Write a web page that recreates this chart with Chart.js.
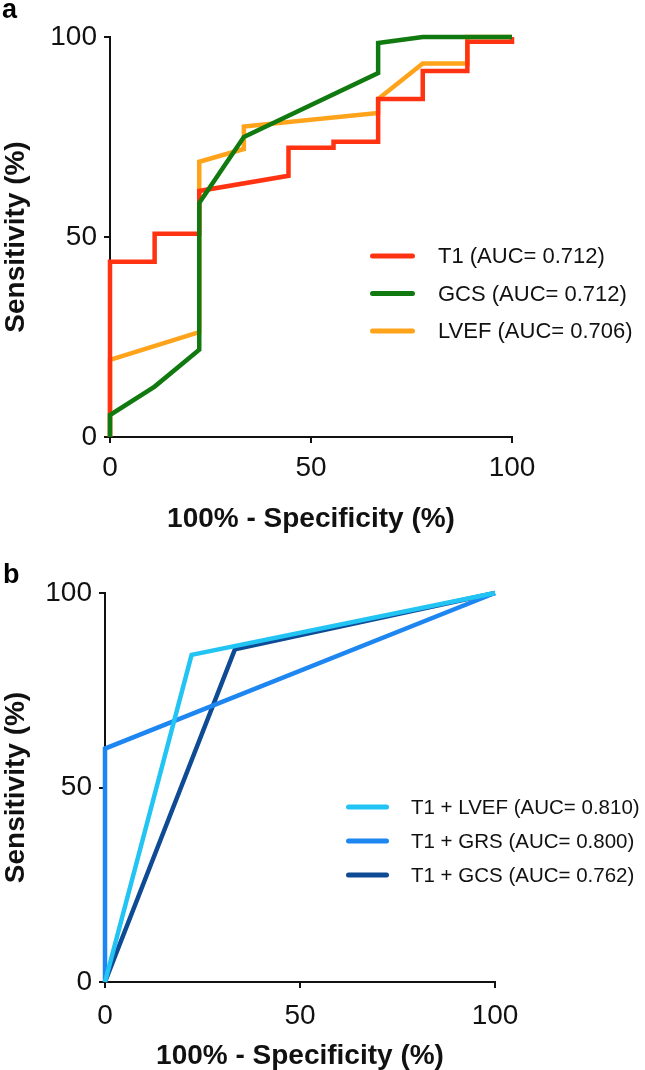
<!DOCTYPE html>
<html><head><meta charset="utf-8">
<script src="https://cdn.jsdelivr.net/npm/chart.js@4.4.1/dist/chart.umd.min.js"></script>
<style>
html,body{margin:0;padding:0;background:#fff;}
#wrap{position:relative;width:645px;height:1070px;overflow:hidden;background:#fff;}
#c1{position:absolute;left:0;top:0;}
#c2{position:absolute;left:0;top:545px;}
</style></head><body>
<div id="wrap">
<canvas id="c1" width="645" height="540"></canvas>
<canvas id="c2" width="645" height="525"></canvas>
</div>
<script>
// ---------- DATA ----------
const axisTicks = [0, 50, 100];
const xTitle = '100% - Specificity (%)';
const yTitle = 'Sensitivity (%)';

// Panel a
const labelsA = ['T1 (AUC= 0.712)', 'GCS (AUC= 0.712)', 'LVEF (AUC= 0.706)'];
const fprT1  = [0, 0, 11.1, 11.1, 22.2, 22.2, 44.4, 44.4, 55.6, 55.6, 66.7, 66.7, 77.8, 77.8, 88.9, 88.9, 100, 100];
const sensT1 = [0, 43.8, 43.8, 50.8, 50.8, 61.5, 65.3, 72.3, 72.3, 73.8, 73.8, 84.5, 84.5, 91.5, 91.5, 98.8, 98.8, 100];
const fprGCS  = [0, 0, 11.1, 22.2, 22.2, 33.3, 66.7, 66.7, 77.8, 100];
const sensGCS = [0, 5.5, 12.6, 21.8, 58.5, 75.0, 91.0, 98.5, 100, 100];
const fprLVEF  = [0, 0, 22.2, 22.2, 33.3, 33.3, 66.7, 66.7, 77.8, 88.9, 88.9, 100];
const sensLVEF = [0, 19.3, 26.2, 68.8, 72.0, 77.6, 81.0, 84.5, 93.4, 93.4, 100, 100];

// Panel b
const labelsB = ['T1 + LVEF (AUC= 0.810)', 'T1 + GRS (AUC= 0.800)', 'T1 + GCS (AUC= 0.762)'];
const fprT1LVEF  = [0, 22.2, 100];
const sensT1LVEF = [0, 84.1, 100];
const fprT1GRS  = [0, 0, 100];
const sensT1GRS = [0, 60.0, 100];
const fprT1GCS  = [0, 33.3, 100];
const sensT1GCS = [0, 85.5, 100];

// ---------- STYLE ----------
const colorsA = ['#ff3311', '#107a10', '#ffa31a'];
const colorsB = ['#22c4f4', '#1d86f0', '#0f4b95'];
const FAM = '"Liberation Sans", Arial, Helvetica, sans-serif';

function pts(xs, ys) { return xs.map((x, i) => ({x: x, y: ys[i]})); }

function ds(label, xs, ys, color, order) {
  return {
    label: label, data: pts(xs, ys), showLine: true, borderColor: color,
    backgroundColor: color, borderWidth: 4.5, pointRadius: 0, pointHoverRadius: 0,
    tension: 0, fill: false, clip: false, order: order,
    borderJoinStyle: 'miter', borderCapStyle: 'butt'
  };
}

function legendPlugin(cfg) {
  return {
    id: 'customLegend',
    afterDraw(chart) {
      const ctx = chart.ctx;
      ctx.save();
      ctx.fillStyle = '#000';
      ctx.textAlign = 'left';
      ctx.textBaseline = 'alphabetic';
      ctx.font = 'bold 27px ' + FAM;
      ctx.fillText(cfg.letter, cfg.letterX, cfg.letterY);
      ctx.font = cfg.fontSize + 'px ' + FAM;
      ctx.textBaseline = 'middle';
      cfg.labels.forEach((lab, i) => {
        const y = cfg.y0 + i * cfg.dy;
        ctx.strokeStyle = cfg.colors[i];
        ctx.lineWidth = 5;
        ctx.lineCap = 'round';
        ctx.beginPath();
        ctx.moveTo(cfg.lx0 + 2.5, y);
        ctx.lineTo(cfg.lx1 - 2.5, y);
        ctx.stroke();
        ctx.fillStyle = '#111';
        ctx.fillText(lab, cfg.tx, y + 1);
      });
      ctx.restore();
    }
  };
}

function makeOptions(o) {
  return {
    responsive: false, animation: false, events: [],
    layout: {padding: {left: 0, right: o.padRight, top: o.padTop, bottom: 0}},
    plugins: {legend: {display: false}, tooltip: {enabled: false}, title: {display: false}},
    scales: {
      x: {
        type: 'linear', min: 0, max: 100,
        afterBuildTicks(s) { s.ticks = axisTicks.map(v => ({value: v})); },
        ticks: {font: {family: FAM, size: o.tickSize, lineHeight: 1.2}, color: '#111', padding: o.xTickPad, maxRotation: 0, autoSkip: false},
        grid: {display: true, drawOnChartArea: false, drawTicks: true, tickLength: 6, color: '#111', lineWidth: 2},
        border: {display: true, color: '#111', width: 2},
        title: {display: true, text: xTitle, color: '#111',
          font: {family: FAM, size: o.titleSize, weight: 'bold', lineHeight: 1},
          padding: {top: 0, bottom: o.xTitlePad}},
        afterFit(s) { s.height = o.xAxisH; }
      },
      y: {
        type: 'linear', min: 0, max: 100,
        afterBuildTicks(s) { s.ticks = axisTicks.map(v => ({value: v})); },
        ticks: {font: {family: FAM, size: o.tickSize, lineHeight: 1.2}, color: '#111', padding: 7, autoSkip: false},
        grid: {display: true, drawOnChartArea: false, drawTicks: true, tickLength: 6, color: '#111', lineWidth: 2},
        border: {display: true, color: '#111', width: 2},
        title: {display: true, text: yTitle, color: '#111',
          font: {family: FAM, size: o.titleSize, weight: 'bold', lineHeight: 1},
          padding: {top: o.yTitlePad, bottom: 0}},
        afterFit(s) { s.width = o.yAxisW; }
      }
    }
  };
}

new Chart(document.getElementById('c1'), {
  type: 'scatter',
  data: {datasets: [
    ds(labelsA[0], fprT1, sensT1, colorsA[0], 1),
    ds(labelsA[1], fprGCS, sensGCS, colorsA[1], 0),
    ds(labelsA[2], fprLVEF, sensLVEF, colorsA[2], 2)
  ]},
  options: makeOptions({padRight: 133, padTop: 37, xAxisH: 103, yAxisW: 110,
    tickSize: 28, titleSize: 28, xTickPad: 8, xTitlePad: 7, yTitlePad: 2}),
  plugins: [legendPlugin({letter: 'a', letterX: 2, letterY: 18, labels: labelsA, colors: colorsA,
    fontSize: 22, y0: 256, dy: 37.5, lx0: 370, lx1: 415, tx: 438})]
});

new Chart(document.getElementById('c2'), {
  type: 'scatter',
  data: {datasets: [
    ds(labelsB[0], fprT1LVEF, sensT1LVEF, colorsB[0], 0),
    ds(labelsB[1], fprT1GRS, sensT1GRS, colorsB[1], 1),
    ds(labelsB[2], fprT1GCS, sensT1GCS, colorsB[2], 2)
  ]},
  options: makeOptions({padRight: 150, padTop: 48, xAxisH: 88, yAxisW: 105,
    tickSize: 28, titleSize: 28, xTickPad: 11, xTitlePad: 0, yTitlePad: 2}),
  plugins: [legendPlugin({letter: 'b', letterX: 3, letterY: 38, labels: labelsB, colors: colorsB,
    fontSize: 20.5, y0: 262, dy: 34, lx0: 346, lx1: 389, tx: 411})]
});
</script>
</body></html>
